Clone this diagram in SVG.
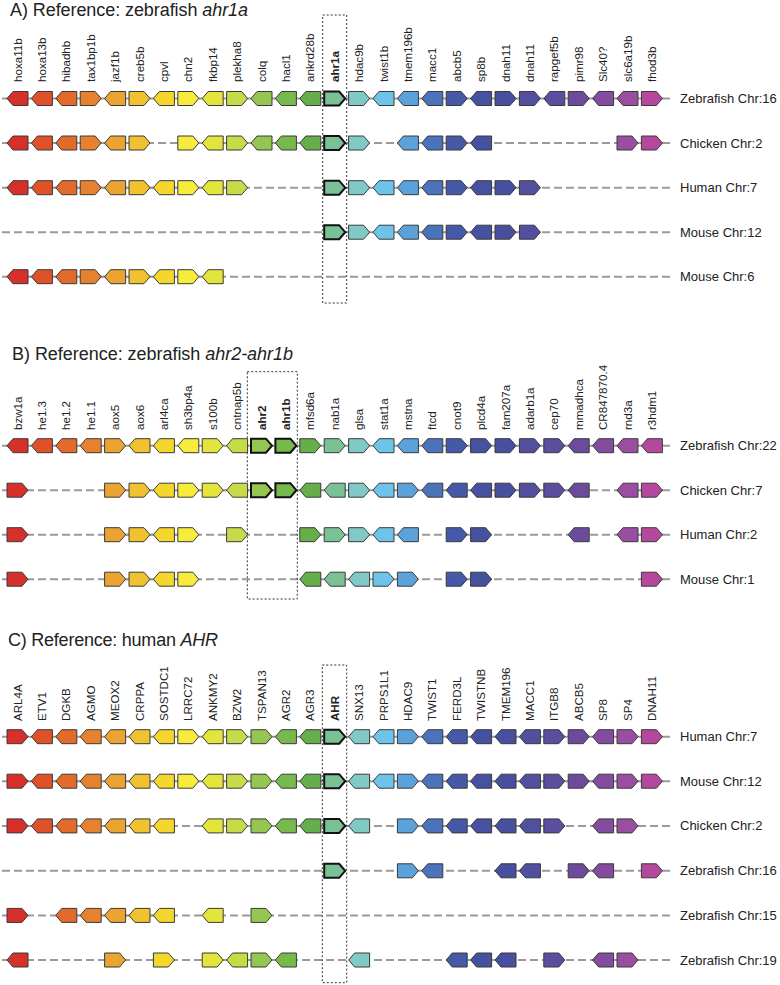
<svg xmlns="http://www.w3.org/2000/svg" width="780" height="985" viewBox="0 0 780 985">
<style>
.g{stroke:#3a3a3a;stroke-width:1}
.k{stroke:#111;stroke-width:2}
.ln{stroke:#9a9a9a;stroke-width:2;fill:none}
.ds{stroke:#9a9a9a;stroke-width:2;stroke-dasharray:8 4;fill:none}
.lb{font-family:"Liberation Sans",Arial,sans-serif;font-size:11.6px;fill:#222}
.b{font-weight:bold}
.chr{font-family:"Liberation Sans",Arial,sans-serif;font-size:13px;fill:#222}
.ttl{font-family:"Liberation Sans",Arial,sans-serif;font-size:18px;fill:#222}
.box{fill:none;stroke:#333;stroke-width:1;stroke-dasharray:2 2}
.c0{fill:#d5302a}.c1{fill:#df5229}.c2{fill:#e26a2b}.c3{fill:#e6822f}.c4{fill:#eba332}.c5{fill:#f1c22f}.c6{fill:#f5d62c}.c7{fill:#f7ec3b}.c8{fill:#e3e43c}.c9{fill:#c7da48}.c10{fill:#95c651}.c11{fill:#78b94c}.c12{fill:#66ad4b}.c13{fill:#7bc196}.c14{fill:#80c9c7}.c15{fill:#6ec3ea}.c16{fill:#5ba1da}.c17{fill:#4b73bb}.c18{fill:#4559a8}.c19{fill:#4651a0}.c20{fill:#494f9f}.c21{fill:#524f9f}.c22{fill:#5c4d9e}.c23{fill:#6d4b9c}.c24{fill:#834c9f}.c25{fill:#9a4ea2}.c26{fill:#b5489c}
</style>
<defs>
<path id="R" d="M0,-7H15L21,0L15,7H0Z"/>
<path id="L" d="M21,-7H6L0,0L6,7H21Z"/>
</defs>
<rect width="780" height="985" fill="#fff"/>

<g id="titles">
<text class="ttl" x="10" y="16" textLength="238">A) Reference: zebrafish <tspan font-style="italic">ahr1a</tspan></text>
<text class="ttl" x="12" y="359.5" textLength="281">B) Reference: zebrafish <tspan font-style="italic">ahr2-ahr1b</tspan></text>
<text class="ttl" x="8" y="645.5" textLength="210">C) Reference: human <tspan font-style="italic">AHR</tspan></text>
</g>

<g id="connectors">
<line class="ln" x1="2" y1="98.5" x2="670" y2="98.5"/>
<line class="ds" x1="2" y1="143" x2="670" y2="143"/>
<line class="ln" x1="7" y1="143" x2="150" y2="143"/><line class="ln" x1="177.8" y1="143" x2="369.6" y2="143"/><line class="ln" x1="397.4" y1="143" x2="491.6" y2="143"/><line class="ln" x1="617" y1="143" x2="662.4" y2="143"/>
<line class="ds" x1="2" y1="187.7" x2="670" y2="187.7"/>
<line class="ln" x1="7" y1="187.7" x2="247.6" y2="187.7"/><line class="ln" x1="324.2" y1="187.7" x2="540.4" y2="187.7"/>
<line class="ds" x1="2" y1="232.2" x2="670" y2="232.2"/>
<line class="ln" x1="324.2" y1="232.2" x2="540.4" y2="232.2"/>
<line class="ds" x1="2" y1="276.7" x2="670" y2="276.7"/>
<line class="ln" x1="7" y1="276.7" x2="223.2" y2="276.7"/>

<line class="ln" x1="2" y1="445.7" x2="670" y2="445.7"/>
<line class="ds" x1="2" y1="490.2" x2="670" y2="490.2"/>
<line class="ln" x1="104.6" y1="490.2" x2="589.2" y2="490.2"/><line class="ln" x1="617" y1="490.2" x2="662.4" y2="490.2"/>
<line class="ds" x1="2" y1="534.7" x2="670" y2="534.7"/>
<line class="ln" x1="104.6" y1="534.7" x2="198.8" y2="534.7"/><line class="ln" x1="299.8" y1="534.7" x2="418.4" y2="534.7"/><line class="ln" x1="446.2" y1="534.7" x2="491.6" y2="534.7"/><line class="ln" x1="617" y1="534.7" x2="662.4" y2="534.7"/>
<line class="ds" x1="2" y1="579.2" x2="670" y2="579.2"/>
<line class="ln" x1="104.6" y1="579.2" x2="198.8" y2="579.2"/><line class="ln" x1="299.8" y1="579.2" x2="418.4" y2="579.2"/><line class="ln" x1="446.2" y1="579.2" x2="491.6" y2="579.2"/>

<line class="ln" x1="2" y1="736.7" x2="670" y2="736.7"/>
<line class="ds" x1="2" y1="781.2" x2="670" y2="781.2"/>
<line class="ln" x1="7" y1="781.2" x2="662.4" y2="781.2"/>
<line class="ds" x1="2" y1="825.9" x2="670" y2="825.9"/>
<line class="ln" x1="7" y1="825.9" x2="174.4" y2="825.9"/><line class="ln" x1="202.2" y1="825.9" x2="369.6" y2="825.9"/><line class="ln" x1="397.4" y1="825.9" x2="564.8" y2="825.9"/><line class="ln" x1="592.6" y1="825.9" x2="638" y2="825.9"/>
<line class="ds" x1="2" y1="870.8" x2="670" y2="870.8"/>
<line class="ln" x1="397.4" y1="870.8" x2="442.8" y2="870.8"/><line class="ln" x1="495" y1="870.8" x2="540.4" y2="870.8"/><line class="ln" x1="568.2" y1="870.8" x2="613.6" y2="870.8"/>
<line class="ds" x1="2" y1="915.4" x2="670" y2="915.4"/>
<line class="ln" x1="55.8" y1="915.4" x2="174.4" y2="915.4"/>
<line class="ds" x1="2" y1="960" x2="670" y2="960"/>
<line class="ln" x1="202.2" y1="960" x2="296.4" y2="960"/><line class="ln" x1="446.2" y1="960" x2="516" y2="960"/><line class="ln" x1="592.6" y1="960" x2="638" y2="960"/>
</g>

<g id="boxes">
<rect class="box" x="322.7" y="15" width="24" height="288"/>
<rect class="box" x="247.3" y="371.7" width="50" height="227.3"/>
<rect class="box" x="322.3" y="665" width="24.4" height="317.7"/>
</g>

<g id="labelsA" class="lb">
<text transform="translate(21.5 82) rotate(-90)">hoxa11b</text>
<text transform="translate(45.9 82) rotate(-90)">hoxa13b</text>
<text transform="translate(70.3 82) rotate(-90)">hibadhb</text>
<text transform="translate(94.7 82) rotate(-90)">tax1bp1b</text>
<text transform="translate(119.1 82) rotate(-90)">jazf1b</text>
<text transform="translate(143.5 82) rotate(-90)">creb5b</text>
<text transform="translate(167.9 82) rotate(-90)">cpvl</text>
<text transform="translate(192.3 82) rotate(-90)">chn2</text>
<text transform="translate(216.7 82) rotate(-90)">fkbp14</text>
<text transform="translate(241.1 82) rotate(-90)">plekha8</text>
<text transform="translate(265.5 82) rotate(-90)">colq</text>
<text transform="translate(289.9 82) rotate(-90)">hacl1</text>
<text transform="translate(314.3 82) rotate(-90)">ankrd28b</text>
<text class="b" transform="translate(338.7 82) rotate(-90)">ahr1a</text>
<text transform="translate(363.1 82) rotate(-90)">hdac9b</text>
<text transform="translate(387.5 82) rotate(-90)">twist1b</text>
<text transform="translate(411.9 82) rotate(-90)">tmem196b</text>
<text transform="translate(436.3 82) rotate(-90)">macc1</text>
<text transform="translate(460.7 82) rotate(-90)">abcb5</text>
<text transform="translate(485.1 82) rotate(-90)">sp8b</text>
<text transform="translate(509.5 82) rotate(-90)">dnah11</text>
<text transform="translate(533.9 82) rotate(-90)">dnah11</text>
<text transform="translate(558.3 82) rotate(-90)">rapgef5b</text>
<text transform="translate(582.7 82) rotate(-90)">pimr98</text>
<text transform="translate(607.1 82) rotate(-90)">Slc40?</text>
<text transform="translate(631.5 82) rotate(-90)">slc6a19b</text>
<text transform="translate(655.9 82) rotate(-90)">fhod3b</text>
</g>

<g id="labelsB" class="lb">
<text transform="translate(21.5 430) rotate(-90)">bzw1a</text>
<text transform="translate(45.9 430) rotate(-90)">he1.3</text>
<text transform="translate(70.3 430) rotate(-90)">he1.2</text>
<text transform="translate(94.7 430) rotate(-90)">he1.1</text>
<text transform="translate(119.1 430) rotate(-90)">aox5</text>
<text transform="translate(143.5 430) rotate(-90)">aox6</text>
<text transform="translate(167.9 430) rotate(-90)">arl4ca</text>
<text transform="translate(192.3 430) rotate(-90)">sh3bp4a</text>
<text transform="translate(216.7 430) rotate(-90)">s100b</text>
<text transform="translate(241.1 430) rotate(-90)">cntnap5b</text>
<text class="b" transform="translate(265.5 430) rotate(-90)">ahr2</text>
<text class="b" transform="translate(289.9 430) rotate(-90)">ahr1b</text>
<text transform="translate(314.3 430) rotate(-90)">mfsd6a</text>
<text transform="translate(338.7 430) rotate(-90)">nab1a</text>
<text transform="translate(363.1 430) rotate(-90)">glsa</text>
<text transform="translate(387.5 430) rotate(-90)">stat1a</text>
<text transform="translate(411.9 430) rotate(-90)">mstna</text>
<text transform="translate(436.3 430) rotate(-90)">ftcd</text>
<text transform="translate(460.7 430) rotate(-90)">cnot9</text>
<text transform="translate(485.1 430) rotate(-90)">plcd4a</text>
<text transform="translate(509.5 430) rotate(-90)">fam207a</text>
<text transform="translate(533.9 430) rotate(-90)">adarb1a</text>
<text transform="translate(558.3 430) rotate(-90)">cep70</text>
<text transform="translate(582.7 430) rotate(-90)">mmadhca</text>
<text transform="translate(607.1 430) rotate(-90)">CR847870.4</text>
<text transform="translate(631.5 430) rotate(-90)">rnd3a</text>
<text transform="translate(655.9 430) rotate(-90)">r3hdm1</text>
</g>

<g id="labelsC" class="lb">
<text transform="translate(21.5 721) rotate(-90)">ARL4A</text>
<text transform="translate(45.9 721) rotate(-90)">ETV1</text>
<text transform="translate(70.3 721) rotate(-90)">DGKB</text>
<text transform="translate(94.7 721) rotate(-90)">AGMO</text>
<text transform="translate(119.1 721) rotate(-90)">MEOX2</text>
<text transform="translate(143.5 721) rotate(-90)">CRPPA</text>
<text transform="translate(167.9 721) rotate(-90)">SOSTDC1</text>
<text transform="translate(192.3 721) rotate(-90)">LRRC72</text>
<text transform="translate(216.7 721) rotate(-90)">ANKMY2</text>
<text transform="translate(241.1 721) rotate(-90)">BZW2</text>
<text transform="translate(265.5 721) rotate(-90)">TSPAN13</text>
<text transform="translate(289.9 721) rotate(-90)">AGR2</text>
<text transform="translate(314.3 721) rotate(-90)">AGR3</text>
<text class="b" transform="translate(338.7 721) rotate(-90)">AHR</text>
<text transform="translate(363.1 721) rotate(-90)">SNX13</text>
<text transform="translate(387.5 721) rotate(-90)">PRPS1L1</text>
<text transform="translate(411.9 721) rotate(-90)">HDAC9</text>
<text transform="translate(436.3 721) rotate(-90)">TWIST1</text>
<text transform="translate(460.7 721) rotate(-90)">FERD3L</text>
<text transform="translate(485.1 721) rotate(-90)">TWISTNB</text>
<text transform="translate(509.5 721) rotate(-90)">TMEM196</text>
<text transform="translate(533.9 721) rotate(-90)">MACC1</text>
<text transform="translate(558.3 721) rotate(-90)">ITGB8</text>
<text transform="translate(582.7 721) rotate(-90)">ABCB5</text>
<text transform="translate(607.1 721) rotate(-90)">SP8</text>
<text transform="translate(631.5 721) rotate(-90)">SP4</text>
<text transform="translate(655.9 721) rotate(-90)">DNAH11</text>
</g>

<g id="chrLabels" class="chr">
<text x="680" y="103">Zebrafish Chr:16</text>
<text x="680" y="147.5">Chicken Chr:2</text>
<text x="680" y="192.2">Human Chr:7</text>
<text x="680" y="236.7">Mouse Chr:12</text>
<text x="680" y="281.2">Mouse Chr:6</text>
<text x="680" y="450.2">Zebrafish Chr:22</text>
<text x="680" y="494.7">Chicken Chr:7</text>
<text x="680" y="539.2">Human Chr:2</text>
<text x="680" y="583.7">Mouse Chr:1</text>
<text x="680" y="741.2">Human Chr:7</text>
<text x="680" y="785.7">Mouse Chr:12</text>
<text x="680" y="830.4">Chicken Chr:2</text>
<text x="680" y="875.3">Zebrafish Chr:16</text>
<text x="680" y="919.9">Zebrafish Chr:15</text>
<text x="680" y="964.5">Zebrafish Chr:19</text>
</g>

<g id="rowA1">
<use href="#L" class="g c0" x="7" y="98.5"/><use href="#L" class="g c1" x="31.4" y="98.5"/><use href="#L" class="g c2" x="55.8" y="98.5"/><use href="#R" class="g c3" x="80.2" y="98.5"/><use href="#L" class="g c4" x="104.6" y="98.5"/><use href="#R" class="g c5" x="129" y="98.5"/><use href="#L" class="g c6" x="153.4" y="98.5"/><use href="#R" class="g c7" x="177.8" y="98.5"/><use href="#L" class="g c8" x="202.2" y="98.5"/><use href="#R" class="g c9" x="226.6" y="98.5"/><use href="#L" class="g c10" x="251" y="98.5"/><use href="#L" class="g c11" x="275.4" y="98.5"/><use href="#L" class="g c12" x="299.8" y="98.5"/><use href="#R" class="g k c13" x="324.2" y="98.5"/><use href="#R" class="g c14" x="348.6" y="98.5"/><use href="#L" class="g c15" x="373" y="98.5"/><use href="#L" class="g c16" x="397.4" y="98.5"/><use href="#L" class="g c17" x="421.8" y="98.5"/><use href="#R" class="g c18" x="446.2" y="98.5"/><use href="#L" class="g c19" x="470.6" y="98.5"/><use href="#R" class="g c20" x="495" y="98.5"/><use href="#R" class="g c21" x="519.4" y="98.5"/><use href="#L" class="g c22" x="543.8" y="98.5"/><use href="#R" class="g c23" x="568.2" y="98.5"/><use href="#L" class="g c24" x="592.6" y="98.5"/><use href="#L" class="g c25" x="617" y="98.5"/><use href="#R" class="g c26" x="641.4" y="98.5"/>
</g>
<g id="rowA2">
<use href="#L" class="g c0" x="7" y="143"/><use href="#L" class="g c1" x="31.4" y="143"/><use href="#L" class="g c2" x="55.8" y="143"/><use href="#R" class="g c3" x="80.2" y="143"/><use href="#L" class="g c4" x="104.6" y="143"/><use href="#R" class="g c5" x="129" y="143"/><use href="#R" class="g c7" x="177.8" y="143"/><use href="#L" class="g c8" x="202.2" y="143"/><use href="#R" class="g c9" x="226.6" y="143"/><use href="#L" class="g c10" x="251" y="143"/><use href="#L" class="g c11" x="275.4" y="143"/><use href="#L" class="g c12" x="299.8" y="143"/><use href="#R" class="g k c13" x="324.2" y="143"/><use href="#R" class="g c14" x="348.6" y="143"/><use href="#L" class="g c16" x="397.4" y="143"/><use href="#L" class="g c17" x="421.8" y="143"/><use href="#R" class="g c18" x="446.2" y="143"/><use href="#L" class="g c19" x="470.6" y="143"/><use href="#R" class="g c25" x="617" y="143"/><use href="#R" class="g c26" x="641.4" y="143"/>
</g>
<g id="rowA3">
<use href="#L" class="g c0" x="7" y="187.7"/><use href="#L" class="g c1" x="31.4" y="187.7"/><use href="#L" class="g c2" x="55.8" y="187.7"/><use href="#R" class="g c3" x="80.2" y="187.7"/><use href="#L" class="g c4" x="104.6" y="187.7"/><use href="#R" class="g c5" x="129" y="187.7"/><use href="#L" class="g c6" x="153.4" y="187.7"/><use href="#R" class="g c7" x="177.8" y="187.7"/><use href="#L" class="g c8" x="202.2" y="187.7"/><use href="#R" class="g c9" x="226.6" y="187.7"/><use href="#R" class="g k c13" x="324.2" y="187.7"/><use href="#R" class="g c14" x="348.6" y="187.7"/><use href="#L" class="g c15" x="373" y="187.7"/><use href="#L" class="g c16" x="397.4" y="187.7"/><use href="#L" class="g c17" x="421.8" y="187.7"/><use href="#R" class="g c18" x="446.2" y="187.7"/><use href="#L" class="g c19" x="470.6" y="187.7"/><use href="#R" class="g c20" x="495" y="187.7"/><use href="#R" class="g c21" x="519.4" y="187.7"/>
</g>
<g id="rowA4">
<use href="#R" class="g k c13" x="324.2" y="232.2"/><use href="#R" class="g c14" x="348.6" y="232.2"/><use href="#L" class="g c15" x="373" y="232.2"/><use href="#L" class="g c16" x="397.4" y="232.2"/><use href="#L" class="g c17" x="421.8" y="232.2"/><use href="#R" class="g c18" x="446.2" y="232.2"/><use href="#L" class="g c19" x="470.6" y="232.2"/><use href="#R" class="g c20" x="495" y="232.2"/><use href="#R" class="g c21" x="519.4" y="232.2"/>
</g>
<g id="rowA5">
<use href="#L" class="g c0" x="7" y="276.7"/><use href="#L" class="g c1" x="31.4" y="276.7"/><use href="#L" class="g c2" x="55.8" y="276.7"/><use href="#R" class="g c3" x="80.2" y="276.7"/><use href="#L" class="g c4" x="104.6" y="276.7"/><use href="#R" class="g c5" x="129" y="276.7"/><use href="#L" class="g c6" x="153.4" y="276.7"/><use href="#R" class="g c7" x="177.8" y="276.7"/><use href="#L" class="g c8" x="202.2" y="276.7"/>
</g>

<g id="rowB1">
<use href="#L" class="g c0" x="7" y="445.7"/><use href="#L" class="g c1" x="31.4" y="445.7"/><use href="#L" class="g c2" x="55.8" y="445.7"/><use href="#L" class="g c3" x="80.2" y="445.7"/><use href="#R" class="g c4" x="104.6" y="445.7"/><use href="#L" class="g c5" x="129" y="445.7"/><use href="#L" class="g c6" x="153.4" y="445.7"/><use href="#L" class="g c7" x="177.8" y="445.7"/><use href="#R" class="g c8" x="202.2" y="445.7"/><use href="#L" class="g c9" x="226.6" y="445.7"/><use href="#R" class="g k c10" x="251" y="445.7"/><use href="#R" class="g k c11" x="275.4" y="445.7"/><use href="#R" class="g c12" x="299.8" y="445.7"/><use href="#R" class="g c13" x="324.2" y="445.7"/><use href="#R" class="g c14" x="348.6" y="445.7"/><use href="#L" class="g c15" x="373" y="445.7"/><use href="#L" class="g c16" x="397.4" y="445.7"/><use href="#L" class="g c17" x="421.8" y="445.7"/><use href="#R" class="g c18" x="446.2" y="445.7"/><use href="#R" class="g c19" x="470.6" y="445.7"/><use href="#R" class="g c20" x="495" y="445.7"/><use href="#R" class="g c21" x="519.4" y="445.7"/><use href="#R" class="g c22" x="543.8" y="445.7"/><use href="#L" class="g c23" x="568.2" y="445.7"/><use href="#L" class="g c24" x="592.6" y="445.7"/><use href="#L" class="g c25" x="617" y="445.7"/><use href="#L" class="g c26" x="641.4" y="445.7"/>
</g>
<g id="rowB2">
<use href="#R" class="g c0" x="7" y="490.2"/><use href="#R" class="g c4" x="104.6" y="490.2"/><use href="#R" class="g c5" x="129" y="490.2"/><use href="#L" class="g c6" x="153.4" y="490.2"/><use href="#R" class="g c7" x="177.8" y="490.2"/><use href="#R" class="g c8" x="202.2" y="490.2"/><use href="#L" class="g c9" x="226.6" y="490.2"/><use href="#R" class="g k c10" x="251" y="490.2"/><use href="#R" class="g k c11" x="275.4" y="490.2"/><use href="#L" class="g c12" x="299.8" y="490.2"/><use href="#L" class="g c13" x="324.2" y="490.2"/><use href="#R" class="g c14" x="348.6" y="490.2"/><use href="#L" class="g c15" x="373" y="490.2"/><use href="#R" class="g c16" x="397.4" y="490.2"/><use href="#L" class="g c17" x="421.8" y="490.2"/><use href="#L" class="g c18" x="446.2" y="490.2"/><use href="#L" class="g c19" x="470.6" y="490.2"/><use href="#R" class="g c20" x="495" y="490.2"/><use href="#R" class="g c21" x="519.4" y="490.2"/><use href="#R" class="g c22" x="543.8" y="490.2"/><use href="#L" class="g c23" x="568.2" y="490.2"/><use href="#L" class="g c25" x="617" y="490.2"/><use href="#R" class="g c26" x="641.4" y="490.2"/>
</g>
<g id="rowB3">
<use href="#R" class="g c0" x="7" y="534.7"/><use href="#R" class="g c4" x="104.6" y="534.7"/><use href="#R" class="g c5" x="129" y="534.7"/><use href="#L" class="g c6" x="153.4" y="534.7"/><use href="#R" class="g c7" x="177.8" y="534.7"/><use href="#R" class="g c9" x="226.6" y="534.7"/><use href="#R" class="g c12" x="299.8" y="534.7"/><use href="#R" class="g c13" x="324.2" y="534.7"/><use href="#R" class="g c14" x="348.6" y="534.7"/><use href="#L" class="g c15" x="373" y="534.7"/><use href="#L" class="g c16" x="397.4" y="534.7"/><use href="#R" class="g c18" x="446.2" y="534.7"/><use href="#R" class="g c19" x="470.6" y="534.7"/><use href="#L" class="g c23" x="568.2" y="534.7"/><use href="#L" class="g c25" x="617" y="534.7"/><use href="#R" class="g c26" x="641.4" y="534.7"/>
</g>
<g id="rowB4">
<use href="#R" class="g c0" x="7" y="579.2"/><use href="#R" class="g c4" x="104.6" y="579.2"/><use href="#R" class="g c5" x="129" y="579.2"/><use href="#L" class="g c6" x="153.4" y="579.2"/><use href="#R" class="g c7" x="177.8" y="579.2"/><use href="#L" class="g c12" x="299.8" y="579.2"/><use href="#L" class="g c13" x="324.2" y="579.2"/><use href="#L" class="g c14" x="348.6" y="579.2"/><use href="#R" class="g c15" x="373" y="579.2"/><use href="#R" class="g c16" x="397.4" y="579.2"/><use href="#R" class="g c18" x="446.2" y="579.2"/><use href="#R" class="g c19" x="470.6" y="579.2"/><use href="#R" class="g c26" x="641.4" y="579.2"/>
</g>

<g id="rowC1">
<use href="#R" class="g c0" x="7" y="736.7"/><use href="#L" class="g c1" x="31.4" y="736.7"/><use href="#L" class="g c2" x="55.8" y="736.7"/><use href="#L" class="g c3" x="80.2" y="736.7"/><use href="#L" class="g c4" x="104.6" y="736.7"/><use href="#L" class="g c5" x="129" y="736.7"/><use href="#L" class="g c6" x="153.4" y="736.7"/><use href="#R" class="g c7" x="177.8" y="736.7"/><use href="#L" class="g c8" x="202.2" y="736.7"/><use href="#R" class="g c9" x="226.6" y="736.7"/><use href="#R" class="g c10" x="251" y="736.7"/><use href="#L" class="g c11" x="275.4" y="736.7"/><use href="#L" class="g c12" x="299.8" y="736.7"/><use href="#R" class="g k c13" x="324.2" y="736.7"/><use href="#L" class="g c14" x="348.6" y="736.7"/><use href="#L" class="g c15" x="373" y="736.7"/><use href="#R" class="g c16" x="397.4" y="736.7"/><use href="#L" class="g c17" x="421.8" y="736.7"/><use href="#L" class="g c18" x="446.2" y="736.7"/><use href="#L" class="g c19" x="470.6" y="736.7"/><use href="#L" class="g c20" x="495" y="736.7"/><use href="#L" class="g c21" x="519.4" y="736.7"/><use href="#R" class="g c22" x="543.8" y="736.7"/><use href="#R" class="g c23" x="568.2" y="736.7"/><use href="#L" class="g c24" x="592.6" y="736.7"/><use href="#R" class="g c25" x="617" y="736.7"/><use href="#R" class="g c26" x="641.4" y="736.7"/>
</g>
<g id="rowC2">
<use href="#R" class="g c0" x="7" y="781.2"/><use href="#L" class="g c1" x="31.4" y="781.2"/><use href="#L" class="g c2" x="55.8" y="781.2"/><use href="#L" class="g c3" x="80.2" y="781.2"/><use href="#L" class="g c4" x="104.6" y="781.2"/><use href="#L" class="g c5" x="129" y="781.2"/><use href="#L" class="g c6" x="153.4" y="781.2"/><use href="#R" class="g c7" x="177.8" y="781.2"/><use href="#L" class="g c8" x="202.2" y="781.2"/><use href="#R" class="g c9" x="226.6" y="781.2"/><use href="#R" class="g c10" x="251" y="781.2"/><use href="#L" class="g c11" x="275.4" y="781.2"/><use href="#L" class="g c12" x="299.8" y="781.2"/><use href="#R" class="g k c13" x="324.2" y="781.2"/><use href="#L" class="g c14" x="348.6" y="781.2"/><use href="#L" class="g c15" x="373" y="781.2"/><use href="#R" class="g c16" x="397.4" y="781.2"/><use href="#L" class="g c17" x="421.8" y="781.2"/><use href="#L" class="g c18" x="446.2" y="781.2"/><use href="#L" class="g c19" x="470.6" y="781.2"/><use href="#L" class="g c20" x="495" y="781.2"/><use href="#L" class="g c21" x="519.4" y="781.2"/><use href="#R" class="g c22" x="543.8" y="781.2"/><use href="#R" class="g c23" x="568.2" y="781.2"/><use href="#L" class="g c24" x="592.6" y="781.2"/><use href="#R" class="g c25" x="617" y="781.2"/><use href="#R" class="g c26" x="641.4" y="781.2"/>
</g>
<g id="rowC3">
<use href="#R" class="g c0" x="7" y="825.9"/><use href="#L" class="g c1" x="31.4" y="825.9"/><use href="#L" class="g c2" x="55.8" y="825.9"/><use href="#L" class="g c3" x="80.2" y="825.9"/><use href="#L" class="g c4" x="104.6" y="825.9"/><use href="#L" class="g c5" x="129" y="825.9"/><use href="#L" class="g c6" x="153.4" y="825.9"/><use href="#L" class="g c8" x="202.2" y="825.9"/><use href="#R" class="g c9" x="226.6" y="825.9"/><use href="#R" class="g c10" x="251" y="825.9"/><use href="#L" class="g c11" x="275.4" y="825.9"/><use href="#L" class="g c12" x="299.8" y="825.9"/><use href="#R" class="g k c13" x="324.2" y="825.9"/><use href="#L" class="g c14" x="348.6" y="825.9"/><use href="#R" class="g c16" x="397.4" y="825.9"/><use href="#L" class="g c17" x="421.8" y="825.9"/><use href="#L" class="g c18" x="446.2" y="825.9"/><use href="#L" class="g c19" x="470.6" y="825.9"/><use href="#L" class="g c20" x="495" y="825.9"/><use href="#L" class="g c21" x="519.4" y="825.9"/><use href="#R" class="g c22" x="543.8" y="825.9"/><use href="#L" class="g c24" x="592.6" y="825.9"/><use href="#R" class="g c25" x="617" y="825.9"/>
</g>
<g id="rowC4">
<use href="#R" class="g k c13" x="324.2" y="870.8"/><use href="#R" class="g c16" x="397.4" y="870.8"/><use href="#L" class="g c17" x="421.8" y="870.8"/><use href="#L" class="g c20" x="495" y="870.8"/><use href="#L" class="g c21" x="519.4" y="870.8"/><use href="#R" class="g c23" x="568.2" y="870.8"/><use href="#L" class="g c24" x="592.6" y="870.8"/><use href="#R" class="g c26" x="641.4" y="870.8"/>
</g>
<g id="rowC5">
<use href="#R" class="g c0" x="7" y="915.4"/><use href="#L" class="g c2" x="55.8" y="915.4"/><use href="#L" class="g c3" x="80.2" y="915.4"/><use href="#L" class="g c4" x="104.6" y="915.4"/><use href="#L" class="g c5" x="129" y="915.4"/><use href="#L" class="g c6" x="153.4" y="915.4"/><use href="#L" class="g c8" x="202.2" y="915.4"/><use href="#R" class="g c10" x="251" y="915.4"/>
</g>
<g id="rowC6">
<use href="#L" class="g c0" x="7" y="960"/><use href="#R" class="g c4" x="104.6" y="960"/><use href="#R" class="g c6" x="153.4" y="960"/><use href="#R" class="g c8" x="202.2" y="960"/><use href="#L" class="g c9" x="226.6" y="960"/><use href="#R" class="g c10" x="251" y="960"/><use href="#L" class="g c11" x="275.4" y="960"/><use href="#L" class="g c14" x="348.6" y="960"/><use href="#L" class="g c18" x="446.2" y="960"/><use href="#L" class="g c19" x="470.6" y="960"/><use href="#L" class="g c20" x="495" y="960"/><use href="#R" class="g c22" x="543.8" y="960"/><use href="#L" class="g c24" x="592.6" y="960"/><use href="#R" class="g c25" x="617" y="960"/>
</g>
</svg>
